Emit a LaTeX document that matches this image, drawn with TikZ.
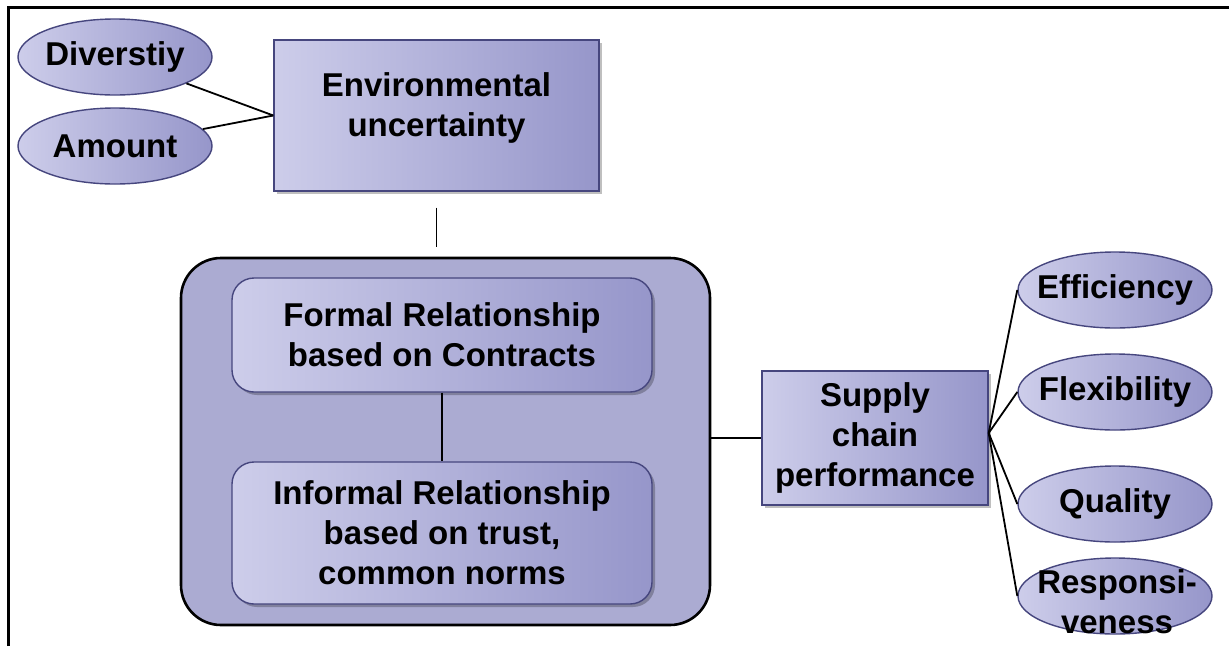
\documentclass[tikz,border=0pt]{standalone}
\usepackage{fontspec}
\setmainfont{Liberation Sans}
\usetikzlibrary{shapes.geometric,shadows}
\definecolor{lav}{HTML}{CDCDEA}
\definecolor{lavd}{HTML}{9696CA}
\definecolor{edgeb}{HTML}{46467E}
\definecolor{outerf}{HTML}{ABABD2}
\tikzset{
  txt/.style={font=\fontsize{33}{40}\selectfont\bfseries, align=center, text=black},
  sq/.style={draw=edgeb, line width=1.4pt, left color=lav, right color=lavd, inner sep=0pt,
             drop shadow={shadow xshift=3pt, shadow yshift=-3pt, opacity=0.25, fill=black}},
  inbox/.style={draw=edgeb, line width=1.4pt, rounded corners=22pt, left color=lav, right color=lavd, inner sep=0pt,
             drop shadow={shadow xshift=3pt, shadow yshift=-3pt, opacity=0.25, fill=black}},
  ell/.style={ellipse, draw=edgeb, line width=1.4pt, left color=lav, right color=lavd, inner sep=0pt,
             minimum width=194pt, minimum height=76pt},
  conn/.style={draw=black, line width=1.8pt},
}
\begin{document}
\begin{tikzpicture}[x=1pt,y=-1pt]
\useasboundingbox (0,0) rectangle (1229,646);
\fill[white] (0,0) rectangle (1229,646);
% frame
\draw[line width=3pt] (8,646) -- (8,7) -- (1229,7);
% left ellipses
\node[ell, label={[txt]center:Diverstiy}] (div) at (115,57) {};
\node[ell, label={[txt]center:Amount}] (amt) at (115,146) {};
% environmental uncertainty
\node[sq, minimum width=325pt, minimum height=151pt] (env) at (436.5,115.5) {};
\node[txt] (envt) at ([yshift=8pt]env.center) {Environmental\\uncertainty};
% outer box
\node[draw=black, line width=2.6pt, rounded corners=40pt, fill=outerf, minimum width=529pt, minimum height=367pt, inner sep=0pt] (outer) at (445.5,441.5) {};
\node[inbox, minimum width=420pt, minimum height=114pt] (formal) at (442,335) {};
\node[txt] (formalt) at (formal.center) {Formal Relationship\\based on Contracts};
\node[inbox, minimum width=420pt, minimum height=142pt] (informal) at (442,533) {};
\node[txt] (informalt) at (informal.center) {Informal Relationship\\based on trust,\\common norms};
% supply chain performance
\node[sq, minimum width=226pt, minimum height=134pt] (sup) at (875,438) {};
\node[txt] (supt) at (sup.center) {Supply\\chain\\performance};
% right ellipses
\node[ell, label={[txt]center:Efficiency}] (eff) at (1115,290) {};
\node[ell, label={[txt]center:Flexibility}] (flex) at (1115,392) {};
\node[ell, label={[txt]center:Quality}] (qual) at (1115,504) {};
\node[ell] (resp) at (1115,596) {};
\node[txt] (respt) at (1117,602) {Responsi-\\veness};
% connectors
\draw[conn] (div) -- (env.west);
\draw[conn] (amt) -- (env.west);
\draw[conn] ([yshift=-16pt]env.south) -- ([yshift=10pt]env.south |- outer.north);
\draw[conn] (formal.south) -- (informal.north);
\draw[conn] (sup.west -| outer.east) -- (sup.west);
\coordinate (hub) at ([yshift=5pt]sup.east);
\draw[conn] (hub) -- (eff.west);
\draw[conn] (hub) -- (flex.west);
\draw[conn] (hub) -- (qual.west);
\draw[conn] (hub) -- (resp.west);
\end{tikzpicture}
\end{document}
